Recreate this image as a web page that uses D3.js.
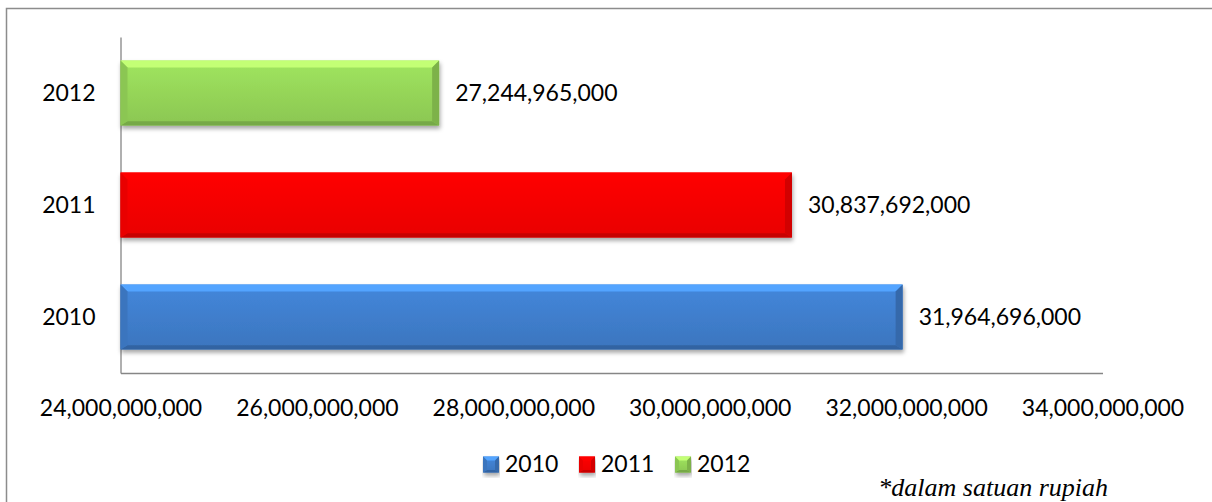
<!DOCTYPE html>
<html>
<head>
<meta charset="utf-8">
<script src="https://cdn.jsdelivr.net/npm/d3@7"></script>
<style>
  body { margin: 0; background: #fff; }
  svg { display: block; }
  text { font-family: Lato, "Open Sans", sans-serif; fill: #000; }
</style>
</head>
<body>
<svg id="chart" width="1212" height="502"></svg>
<script>
// chart data
const years = ["2010", "2011", "2012"];
const values = [31964696000, 30837692000, 27244965000];
const colors = ["#4080d0", "#ff0505", "#98d95a"];
const xTicks = [24e9, 26e9, 28e9, 30e9, 32e9, 34e9];
const note = "*dalam satuan rupiah";

const svg = d3.select("#chart");
const fmt = d3.format(",");

// outer chart border (runs off right and bottom edge)
svg.append("rect")
    .attr("x", 6.5).attr("y", 8.5)
    .attr("width", 1240).attr("height", 520)
    .attr("fill", "none").attr("stroke", "#8c8c8c").attr("stroke-width", 1.5);

const defs = svg.append("defs");
const shadow = defs.append("filter").attr("id", "shadow")
    .attr("x", "-5%").attr("y", "-20%").attr("width", "110%").attr("height", "150%");
shadow.append("feDropShadow")
    .attr("dx", 1).attr("dy", 3).attr("stdDeviation", 2)
    .attr("flood-color", "#000").attr("flood-opacity", 0.35);

colors.forEach((c, i) => {
    const base = d3.color(c);
    const gr = defs.append("linearGradient").attr("id", "face" + i)
        .attr("x1", 0).attr("y1", 0).attr("x2", 0).attr("y2", 1);
    gr.append("stop").attr("offset", "0%").attr("stop-color", base.brighter(0.15));
    gr.append("stop").attr("offset", "100%").attr("stop-color", base.darker(0.25));
});

const x = d3.scaleLinear().domain([24e9, 34e9]).range([120.5, 1102.5]);
// 2010 at bottom, 2012 on top
const y = d3.scaleBand().domain(years.slice().reverse()).range([37, 373]).paddingInner(0.42).paddingOuter(0.21);

// bevelled bar like an office chart
function bevelBar(g, bx, by, w, h, i, b) {
    const base = d3.color(colors[i]);
    const bb = Math.max(2, b * 0.6);
    const grp = g.append("g").attr("filter", "url(#shadow)");
    grp.append("rect").attr("x", bx).attr("y", by).attr("width", w).attr("height", h)
        .attr("fill", "url(#face" + i + ")");
    const poly = (pts, fill) => grp.append("polygon")
        .attr("points", pts.map(p => p.join(",")).join(" ")).attr("fill", fill);
    poly([[bx, by], [bx + w, by], [bx + w - b, by + b], [bx + b, by + b]], base.brighter(0.7));
    poly([[bx, by + h], [bx + w, by + h], [bx + w - b, by + h - bb], [bx + b, by + h - bb]], base.darker(0.7));
    poly([[bx, by], [bx + b, by + b], [bx + b, by + h - bb], [bx, by + h]], base.darker(0.25));
    poly([[bx + w, by], [bx + w - b, by + b], [bx + w - b, by + h - bb], [bx + w, by + h]], base.darker(0.55));
}

// axes
const xAxis = svg.append("g").attr("transform", "translate(0,373)")
    .call(d3.axisBottom(x).tickValues(xTicks).tickFormat(fmt).tickSize(0));
xAxis.select(".domain").attr("stroke", "#868686").attr("stroke-width", 1.3);
xAxis.selectAll("text").attr("dy", null).attr("y", 42.5)
    .style("font-size", "23px").style("font-family", "Lato, 'Open Sans', sans-serif").attr("fill", "#000");

const yAxis = svg.append("g").attr("transform", "translate(120.5,0)")
    .call(d3.axisLeft(y).tickSize(0).tickPadding(25));
yAxis.select(".domain").attr("stroke", "#868686").attr("stroke-width", 1.3);
yAxis.selectAll("text").attr("dy", "0.35em")
    .style("font-size", "23px").style("font-family", "Lato, 'Open Sans', sans-serif").attr("fill", "#000");

// bars
const bars = svg.append("g");
years.forEach((yr, i) => {
    bevelBar(bars, x(24e9), y(yr), x(values[i]) - x(24e9), y.bandwidth(), i, 7);
});

// value labels
svg.append("g").selectAll("text").data(years).join("text")
    .attr("x", (d, i) => x(values[i]) + 16)
    .attr("y", d => y(d) + y.bandwidth() / 2)
    .attr("dy", "0.35em")
    .style("font-size", "23px")
    .text((d, i) => fmt(values[i]));

// legend
const legend = svg.append("g");
const legX = [483, 579, 675];
years.forEach((yr, i) => {
    bevelBar(legend, legX[i], 456.5, 16, 16, i, 4);
    legend.append("text").attr("x", legX[i] + 22).attr("y", 472)
        .style("font-size", "23px").text(yr);
});

// footnote
svg.append("text")
    .attr("x", 1108).attr("y", 496)
    .attr("text-anchor", "end")
    .style("font-family", "'Liberation Serif', 'DejaVu Serif', serif")
    .style("font-style", "italic")
    .style("font-size", "26px")
    .text(note);
</script>
</body>
</html>
